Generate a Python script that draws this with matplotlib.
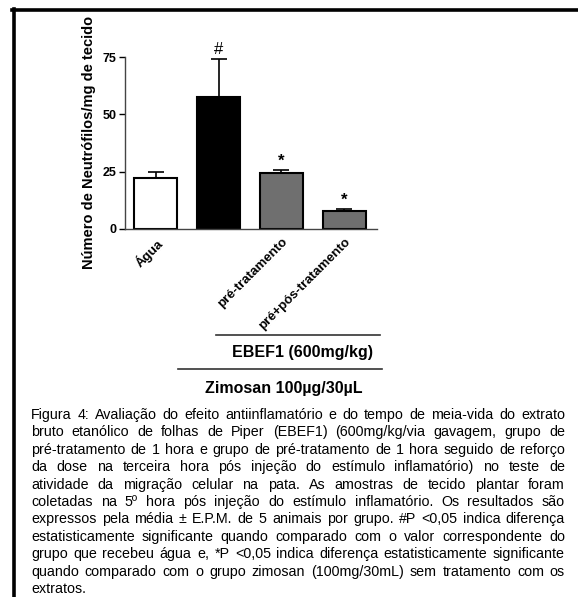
import numpy as np
import matplotlib
matplotlib.use('Agg')
import matplotlib.pyplot as plt
from matplotlib.lines import Line2D

plt.rcParams['font.family'] = ['Liberation Sans', 'DejaVu Sans']

# data
groups = ['Água', '', 'pré-tratamento', 'pré+pós-tratamento']
means = [22.2, 57.6, 24.3, 7.9]
sem = [2.7, 16.6, 1.4, 0.8]
marks = ['', '#', '*', '*']
colors = ['white', 'black', '#6f6f6f', '#6f6f6f']
yticks = [0, 25, 50, 75]
ylabel = 'Número de Neutrófilos/mg de tecido'
group1 = 'EBEF1 (600mg/kg)'
group2 = 'Zimosan 100µg/30µL'
caption_lines = [
    'Figura 4: Avaliação do efeito antiinflamatório e do tempo de meia-vida do  extrato',
    'bruto etanólico de folhas de Piper (EBEF1) (600mg/kg/via gavagem, grupo de',
    'pré-tratamento de 1 hora e grupo de pré-tratamento de 1 hora seguido de reforço',
    'da dose na terceira hora pós injeção do estímulo inflamatório) no teste de',
    'atividade da migração celular na pata. As amostras de tecido plantar foram',
    'coletadas na 5º hora pós injeção do estímulo inflamatório. Os resultados são',
    'expressos pela média ± E.P.M. de 5 animais por grupo. #P <0,05 indica diferença',
    'estatisticamente significante quando comparado com o valor correspondente do',
    'grupo que recebeu água e, *P <0,05 indica diferença estatisticamente significante',
    'quando comparado com o grupo zimosan (100mg/30mL) sem tratamento com os',
    'extratos.',
]

W, H = 578, 597
def fx(px):
    return px / W
def fy(py):
    return 1 - py / H

fig = plt.figure(figsize=(W / 100, H / 100), dpi=100)
ax = fig.add_axes([fx(125), fy(229), fx(377) - fx(125), fy(57) - fy(229)])

x = np.arange(len(groups))
ax.bar(x, means, width=0.69, color=colors, edgecolor='black', linewidth=1.5, zorder=2)
ax.errorbar(x, means, yerr=[np.zeros(len(sem)), sem], fmt='none', ecolor='black',
            elinewidth=1.2, capsize=6, capthick=1.2, zorder=1)
for xi, m, s, mk in zip(x, means, sem, marks):
    if mk:
        ax.annotate(mk, (xi, m + s), xytext=(0, 1), textcoords='offset points',
                    ha='center', va='bottom', fontsize=12 if mk == '#' else 12,
                    fontweight='bold' if mk == '*' else 'normal',
                    annotation_clip=False)

ax.set_xlim(-0.49, 3.52)
ax.set_ylim(0, 75)
ax.set_yticks(yticks)
ax.set_yticklabels([str(t) for t in yticks], fontsize=9, fontweight='bold')
ax.set_xticks(x)
ax.set_xticklabels(groups, rotation=45, ha='right', va='top', rotation_mode='anchor',
                   fontsize=9.5, fontweight='bold')
ax.tick_params(axis='x', length=0, pad=5)
ax.tick_params(axis='y', direction='out', length=4, width=1, pad=2)
for s in ['top', 'right']:
    ax.spines[s].set_visible(False)
for s in ['left', 'bottom']:
    ax.spines[s].set_linewidth(1.0)
    ax.spines[s].set_color('#444444')
ax.set_facecolor('none')

fig.text(fx(89), fy(142), ylabel, rotation=90, ha='center', va='center',
         fontsize=10.5, fontweight='bold')

# group brackets
fig.add_artist(Line2D([fx(216), fx(380)], [fy(335), fy(335)], color='#333333', lw=1.2))
fig.text(fx(302.5), fy(353), group1, ha='center', va='center', fontsize=11.5, fontweight='bold')
fig.add_artist(Line2D([fx(178), fx(382)], [fy(369), fy(369)], color='#333333', lw=1.2))
fig.text(fx(284), fy(388), group2, ha='center', va='center', fontsize=11.5, fontweight='bold')

# page border
fig.add_artist(Line2D([fx(12), fx(578)], [fy(9.5), fy(9.5)], color='black', lw=2.6))
fig.add_artist(Line2D([fx(13.5), fx(13.5)], [fy(8.5), fy(597)], color='black', lw=2.6))

# justified caption
renderer = fig.canvas.get_renderer()
x0, x1 = fx(31), fx(565)
for i, line in enumerate(caption_lines):
    words = line.split()
    y = fy(415 + i * 17.4)
    texts = [fig.text(0, y, w, fontsize=10.3, ha='left', va='center') for w in words]
    widths = [t.get_window_extent(renderer).width / W for t in texts]
    if i == len(caption_lines) - 1 or len(words) == 1:
        gap = 3.0 / W
    else:
        gap = (x1 - x0 - sum(widths)) / (len(words) - 1)
    xc = x0
    for t, w in zip(texts, widths):
        t.set_x(xc)
        xc += w + gap

fig.savefig('out.png', dpi=100)
